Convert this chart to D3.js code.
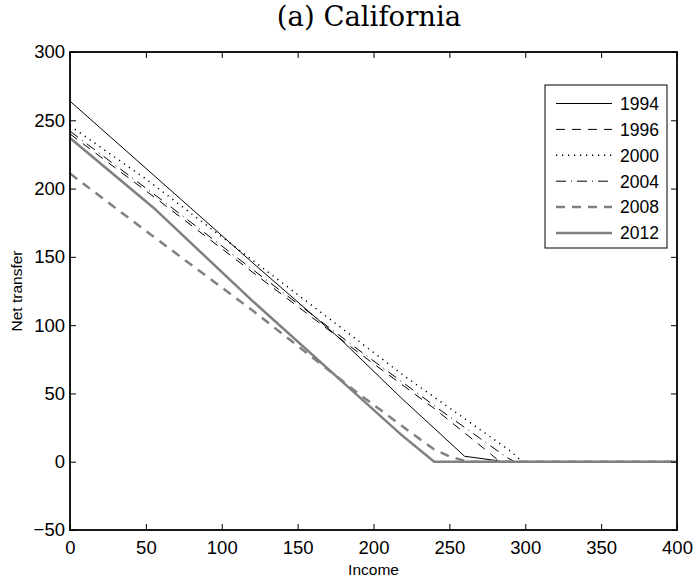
<!DOCTYPE html>
<html>
<head>
<meta charset="utf-8">
<script src="https://cdn.jsdelivr.net/npm/d3@7"></script>
<style>
  body { margin: 0; background: #fff; }
  svg text { font-family: "Liberation Sans", Arial, sans-serif; fill: #000; }
</style>
</head>
<body>
<div id="chart"></div>
<script>
// net transfer schedules (income, transfer)
const years = ['1994', '1996', '2000', '2004', '2008', '2012'];
const s1994 = [[0, 264], [60, 205], [120, 146], [178, 90], [218, 47], [260, 4], [280, 1], [285, 0], [400, 0]];
const s1996 = [[0, 240], [60, 190], [120, 139], [190, 80], [240, 39], [278, 5], [283, 0], [400, 0]];
const s2000 = [[0, 246], [50, 207], [115, 152], [180, 97], [220, 63], [290, 8], [298, 0], [400, 0]];
const s2004 = [[0, 242], [60, 192], [120, 141], [190, 82], [245, 37], [288, 3], [293, 0], [400, 0]];
const s2008 = [[0, 211], [50, 169], [120, 111], [190, 50], [225, 21], [240, 9], [250, 4], [262, 0], [400, 0]];
const s2012 = [[0, 237], [55, 186], [120, 118], [190, 48], [218, 20], [240, 0], [400, 0]];
const seriesData = [s1994, s1996, s2000, s2004, s2008, s2012];

const xTicks = [0, 50, 100, 150, 200, 250, 300, 350, 400];
const yTicks = [-50, 0, 50, 100, 150, 200, 250, 300];

const lineStyle = {
    '1994': { color: '#000', width: 1, dash: null },
    '1996': { color: '#000', width: 1, dash: '9,7' },
    '2000': { color: '#000', width: 1.5, dash: '1.2,4.8' },
    '2004': { color: '#000', width: 1, dash: '10,5,1,5' },
    '2008': { color: '#808080', width: 2.5, dash: '9,7' },
    '2012': { color: '#808080', width: 2.5, dash: null }
};

const w = 696, h = 581;
const box = { left: 70, right: 677, top: 52, bottom: 530 };

const svg = d3.select('#chart')
    .append('svg')
    .attr('width', w)
    .attr('height', h);

const x = d3.scaleLinear().domain([0, 400]).range([box.left, box.right]);
const y = d3.scaleLinear().domain([-50, 300]).range([box.bottom, box.top]);

const fmt = (d) => (d < 0 ? '\u2212' + Math.abs(d) : String(d));

// lines
const line = d3.line().x((d) => x(d[0])).y((d) => y(d[1]));
const plot = svg.append('g');
years.forEach((yr, i) => {
    const st = lineStyle[yr];
    plot.append('path')
        .datum(seriesData[i])
        .attr('d', line)
        .attr('fill', 'none')
        .attr('stroke', st.color)
        .attr('stroke-width', st.width)
        .attr('stroke-dasharray', st.dash);
});

// axes, MATLAB style box with inward ticks
const axisStyle = (g) => {
    g.select('.domain').remove();
    g.selectAll('line').attr('stroke', '#000').attr('stroke-width', 1);
    g.selectAll('text').attr('font-size', '18.5px').attr('font-family', '"Liberation Sans", Arial, sans-serif');
};

svg.append('g')
    .attr('transform', `translate(0,${box.bottom})`)
    .call(d3.axisBottom(x).tickValues(xTicks).tickFormat(fmt).tickSizeInner(-6).tickSizeOuter(0).tickPadding(11))
    .call(axisStyle);
svg.append('g')
    .attr('transform', `translate(0,${box.top})`)
    .call(d3.axisTop(x).tickValues(xTicks).tickFormat('').tickSizeInner(-6).tickSizeOuter(0))
    .call(axisStyle);
svg.append('g')
    .attr('transform', `translate(${box.left},0)`)
    .call(d3.axisLeft(y).tickValues(yTicks).tickFormat(fmt).tickSizeInner(-6).tickSizeOuter(0).tickPadding(5))
    .call(axisStyle);
svg.append('g')
    .attr('transform', `translate(${box.right},0)`)
    .call(d3.axisRight(y).tickValues(yTicks).tickFormat('').tickSizeInner(-6).tickSizeOuter(0))
    .call(axisStyle);

svg.append('rect')
    .attr('x', box.left)
    .attr('y', box.top)
    .attr('width', box.right - box.left)
    .attr('height', box.bottom - box.top)
    .attr('fill', 'none')
    .attr('stroke', '#000')
    .attr('stroke-width', 1.8);

// labels
svg.append('text')
    .attr('x', (box.left + box.right) / 2)
    .attr('y', 575)
    .attr('text-anchor', 'middle')
    .attr('font-size', '15.5px')
    .text('Income');

svg.append('text')
    .attr('transform', `translate(22,${(box.top + box.bottom) / 2}) rotate(-90)`)
    .attr('text-anchor', 'middle')
    .attr('font-size', '15.5px')
    .text('Net transfer');

svg.append('text')
    .attr('x', 369)
    .attr('y', 26)
    .attr('text-anchor', 'middle')
    .attr('font-size', '27.5px')
    .style('font-family', '"DejaVu Serif", serif')
    .text('(a) California');

// legend
const legend = svg.append('g');
legend.append('rect')
    .attr('x', 545)
    .attr('y', 85)
    .attr('width', 122)
    .attr('height', 163)
    .attr('fill', '#fff')
    .attr('stroke', '#000')
    .attr('stroke-width', 1);

const legendY = d3.scalePoint().domain(years).range([103.5, 233]);
years.forEach((yr) => {
    const st = lineStyle[yr];
    const ly = legendY(yr);
    legend.append('line')
        .attr('x1', 556).attr('x2', 612)
        .attr('y1', ly).attr('y2', ly)
        .attr('stroke', st.color)
        .attr('stroke-width', st.width)
        .attr('stroke-dasharray', st.dash);
    legend.append('text')
        .attr('x', 620)
        .attr('y', ly)
        .attr('dy', '0.36em')
        .attr('font-size', '17.5px')
        .text(yr);
});
</script>
</body>
</html>
